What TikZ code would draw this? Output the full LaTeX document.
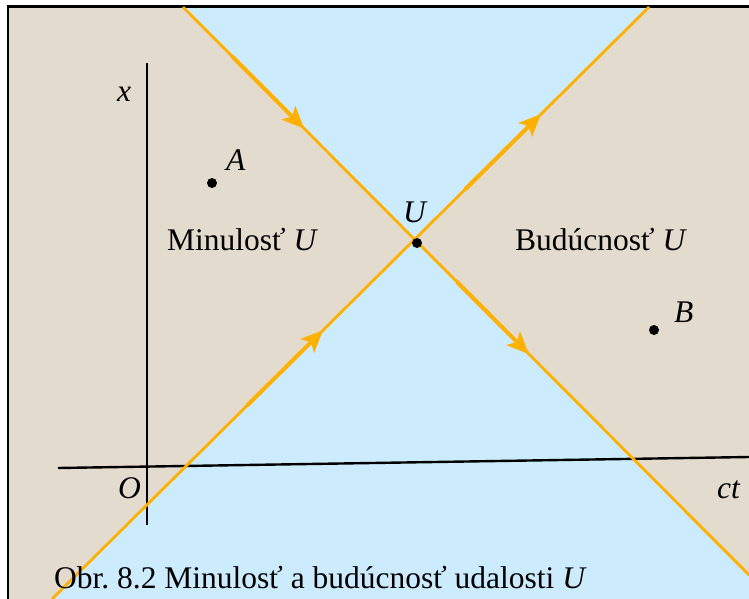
\documentclass[tikz,border=0pt]{standalone}
\usepackage{fontspec}
\setmainfont{Liberation Serif}
\usetikzlibrary{arrows.meta,calc}
\definecolor{beige}{RGB}{227,219,206}
\definecolor{skyb}{RGB}{204,235,253}
\definecolor{lineor}{RGB}{255,176,0}
\tikzset{
  lbl/.style={inner sep=0pt, font=\fontsize{31.5}{36}\selectfont},
  ilbl/.style={lbl, font=\fontsize{31.5}{36}\selectfont\itshape},
  cone/.style={draw=lineor, line width=2.8pt},
  flow/.style={draw=lineor, line width=4pt, -{Stealth[length=22pt,width=19pt,inset=5pt]}},
  axis/.style={draw=black, line width=2.4pt},
  ev/.style={circle, fill=black, inner sep=0pt, minimum size=10pt},
}
\begin{document}
\begin{tikzpicture}[x=1pt,y=-1pt]
\useasboundingbox (0,0) rectangle (749,599);
\fill[white] (0,0) rectangle (749,599);
% background
\fill[beige] (9,7) rectangle (749,599);
% cone coordinates
\coordinate (t1) at (183,7);
\coordinate (b1) at (749,575);
\coordinate (t2) at (649,7);
\coordinate (b2) at (52,599);
\coordinate (X) at (415,240);
% light cones
\fill[skyb] (t1) -- (t2) -- (X) -- cycle;
\fill[skyb] (X) -- (b1) -- (749,599) -- (b2) -- cycle;
% border
\draw[line width=2.6pt] (8,599) -- (8,6.5) -- (749,6.5);
% axes
\coordinate (xa1) at (147,63);
\coordinate (xa2) at (147,525);
\coordinate (ta1) at (58,468);
\coordinate (ta2) at (749,457);
\draw[axis] (xa1) -- (xa2);
\draw[axis] (ta1) -- (ta2);
% cone lines
\draw[cone] (t1) -- (b1);
\draw[cone] (b2) -- (t2);
% arrows, placed on the cone lines
\coordinate (a1s) at ($(t1)!0.087!(b1)$);  \coordinate (a1e) at ($(t1)!0.214!(b1)$);
\coordinate (a2s) at ($(t1)!0.484!(b1)$);  \coordinate (a2e) at ($(t1)!0.611!(b1)$);
\coordinate (a3s) at ($(b2)!0.327!(t2)$);  \coordinate (a3e) at ($(b2)!0.454!(t2)$);
\coordinate (a4s) at ($(b2)!0.692!(t2)$);  \coordinate (a4e) at ($(b2)!0.819!(t2)$);
\draw[flow] (a1s) -- (a1e);
\draw[flow] (a2s) -- (a2e);
\draw[flow] (a3s) -- (a3e);
\draw[flow] (a4s) -- (a4e);
% events
\node[ev] (A) at (212,183) {};
\node[ev] (B) at (654,330) {};
\node[ev] (Ud) at (417,243) {};
% labels
\node[ilbl, anchor=base west] (lA) at (226,170) {A};
\node[ilbl, anchor=base west] (lB) at (674,322) {B};
\node[ilbl, anchor=base west] (lU) at (403,222) {U};
\node[ilbl, anchor=base west] (lx) at (117,102) {x};
\node[ilbl, anchor=base west] (lO) at (118,498) {O};
\node[ilbl, anchor=base west] (lct) at (717,498) {ct};
\node[lbl, anchor=base west] (past) at (167,250) {Minulosť \textit{U}};
\node[lbl, anchor=base west] (fut) at (515,250) {Budúcnosť \textit{U}};
\node[lbl, anchor=base west] (cap) at (54,588) {Obr.\ 8.2 Minulosť a budúcnosť udalosti \textit{U}};
\end{tikzpicture}
\end{document}
